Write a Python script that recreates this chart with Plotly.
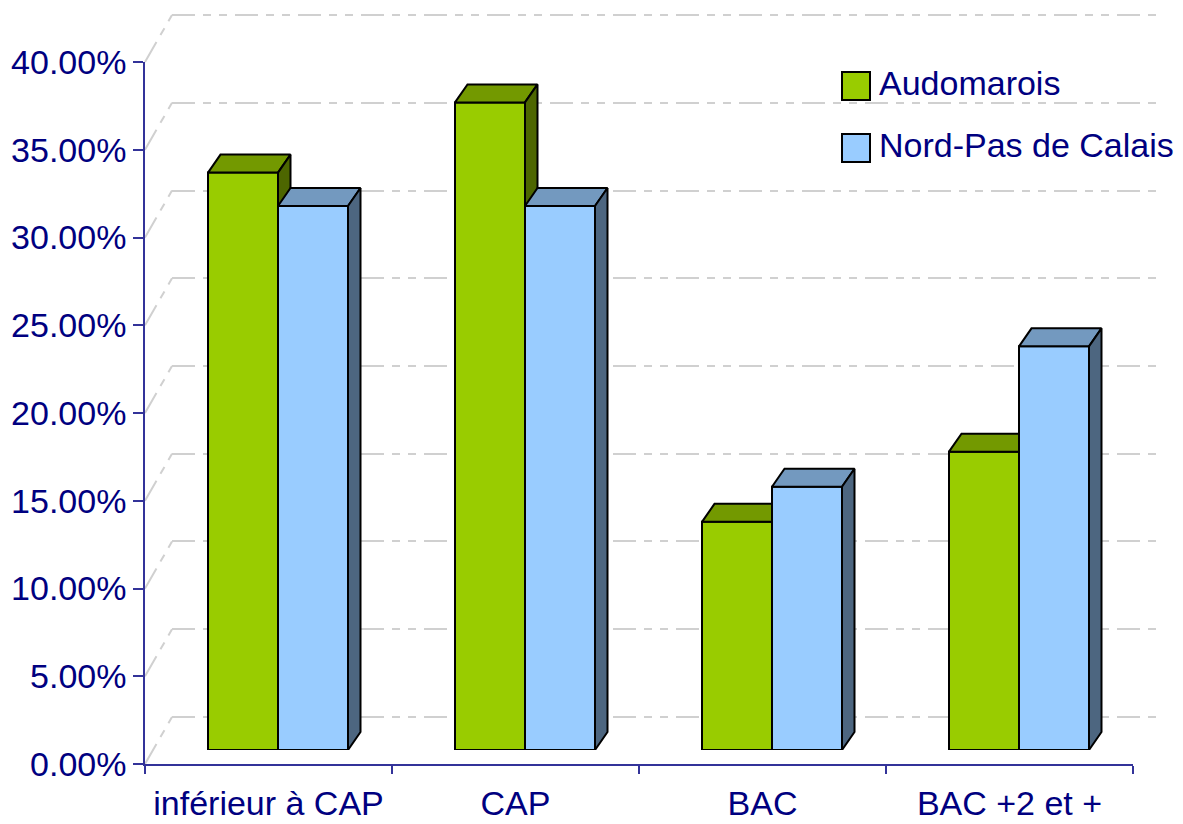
import plotly.graph_objects as go

CATEGORIES = ['inférieur à CAP', 'CAP', 'BAC', 'BAC +2 et +']
SERIES_NAMES = ['Audomarois', 'Nord-Pas de Calais']
AUDOMAROIS = [32.9, 36.9, 13.0, 17.0]
NORD_PAS_DE_CALAIS = [31.0, 31.0, 15.0, 23.0]
Y_TICKS = [0, 5, 10, 15, 20, 25, 30, 35, 40]
Y_TICK_TEXT = ['0.00%', '5.00%', '10.00%', '15.00%', '20.00%',
               '25.00%', '30.00%', '35.00%', '40.00%']

FONT = 'Liberation Sans, Arial, sans-serif'
FONT_SIZE = 34
NAVY = '#000080'
AXIS_BLUE = '#333399'
GRID = '#d0d0d0'
GRID_DASH = '23px,8px,8px,8px,8px,8px'

# front / top / side colours of each series
FACE_COLORS = [
    ('#99cc00', '#739900', '#4d6600'),
    ('#99ccff', '#7399bf', '#4d6680'),
]

# the page body has an 8px margin, so the figure is drawn 8px smaller
PAGE_OFF = 8
W, H = 1183 - PAGE_OFF, 824 - PAGE_OFF
M_L, M_R, M_T, M_B = 145 - PAGE_OFF, 15, 12 - PAGE_OFF, 60
PW, PH = W - M_L - M_R, H - M_T - M_B

# pixel geometry of the fake 3d box (front plane, bars plane, back wall)
FRONT_W, FRONT_H = 988, 702
BAR_SHIFT = (9.5, 14)
WALL_SHIFT = (27, 47)
DEPTH_PX = (12.5, 18)
BAR_PX = 70
Y_MAX = 40
WALL_PAD = 0.1  # small padding so the 0% and 40% wall lines are drawn


def dom_x(shift):
    return [shift / PW, (shift + FRONT_W) / PW]


def dom_y(shift, pad_px=0.0):
    return [(shift - pad_px) / PH, (shift + FRONT_H + pad_px) / PH]


def px_x(px):
    # px measured on the screenshot
    return (px - PAGE_OFF - M_L) / PW


def px_y(py):
    return (H - M_B - (py - PAGE_OFF)) / PH


cat_px = FRONT_W / len(CATEGORIES)
unit_px = FRONT_H / Y_MAX
bw = BAR_PX / cat_px
dx = DEPTH_PX[0] / cat_px
dy = DEPTH_PX[1] / unit_px

fig = go.Figure()

# empty traces so that the wall and front axes exist
fig.add_trace(go.Scatter(x=[0], y=[None], xaxis='x', yaxis='y',
                         showlegend=False, hoverinfo='skip'))
fig.add_trace(go.Scatter(x=CATEGORIES, y=[None] * len(CATEGORIES),
                         xaxis='x2', yaxis='y2', showlegend=False, hoverinfo='skip'))

for k, (name, vals) in enumerate(zip(SERIES_NAMES, [AUDOMAROIS, NORD_PAS_DE_CALAIS])):
    front, top, side = FACE_COLORS[k]
    xa, ya = f'x{k + 3}', f'y{k + 3}'
    off = -bw if k == 0 else 0.0
    xs = list(range(len(vals)))
    fig.add_trace(go.Bar(
        x=xs, y=vals, width=bw, offset=off, name=name,
        marker=dict(color=front, line=dict(color='black', width=2)),
        xaxis=xa, yaxis=ya, showlegend=False,
        hovertemplate='%{y:.2f}%<extra>' + name + '</extra>',
    ))
    tx, ty, sx, sy = [], [], [], []
    for i, v in zip(xs, vals):
        l, r = i + off, i + off + bw
        tx += [l, l + dx, r + dx, r, l, None]
        ty += [v, v + dy, v + dy, v, v, None]
        sx += [r, r + dx, r + dx, r, r, None]
        sy += [0, dy, v + dy, v, 0, None]
    for px_, py_, col in [(tx, ty, top), (sx, sy, side)]:
        fig.add_trace(go.Scatter(
            x=px_, y=py_, mode='lines', fill='toself', fillcolor=col,
            line=dict(color='black', width=2), xaxis=xa, yaxis=ya,
            showlegend=False, hoverinfo='skip',
        ))

shapes = []
# left wall diagonals
for v in Y_TICKS:
    f = v / Y_MAX * FRONT_H / PH
    shapes.append(dict(
        type='line', xref='paper', yref='paper',
        x0=0, y0=dom_y(0)[0] + f,
        x1=WALL_SHIFT[0] / PW, y1=dom_y(WALL_SHIFT[1])[0] + f,
        line=dict(color=GRID, width=2, dash=GRID_DASH), layer='below',
    ))

# legend
annotations = []
for k, name in enumerate(SERIES_NAMES):
    top_px = 72 + k * 62
    shapes.append(dict(
        type='rect', xref='paper', yref='paper',
        x0=px_x(842), x1=px_x(870), y0=px_y(top_px + 28), y1=px_y(top_px),
        fillcolor=FACE_COLORS[k][0], line=dict(color='black', width=2),
    ))
    annotations.append(dict(
        xref='paper', yref='paper', x=px_x(877), y=px_y(top_px + 11),
        xanchor='left', yanchor='middle', text=name, showarrow=False,
        font=dict(family=FONT, size=FONT_SIZE, color=NAVY),
    ))

hidden_x = dict(range=[-0.5, len(CATEGORIES) - 0.5], visible=False, automargin=False)
hidden_y = dict(range=[0, Y_MAX], visible=False, automargin=False)
pad = WALL_PAD

fig.update_layout(
    width=W, height=H,
    margin=dict(l=M_L, r=M_R, t=M_T, b=M_B),
    paper_bgcolor='white',
    plot_bgcolor='rgba(0,0,0,0)',
    font=dict(family=FONT, color=NAVY),
    barmode='overlay',
    showlegend=False,
    xaxis=dict(domain=dom_x(WALL_SHIFT[0]), anchor='y', **hidden_x),
    yaxis=dict(
        domain=dom_y(WALL_SHIFT[1], pad * unit_px), anchor='x',
        range=[-pad, Y_MAX + pad], automargin=False,
        tickvals=Y_TICKS, showticklabels=False, ticks='',
        showgrid=True, gridcolor=GRID, gridwidth=2, griddash=GRID_DASH,
        zeroline=False, showline=False,
    ),
    xaxis2=dict(
        domain=dom_x(0), anchor='y2', type='category',
        categoryorder='array', categoryarray=CATEGORIES,
        range=[-0.5, len(CATEGORIES) - 0.5], automargin=False,
        showline=True, linecolor=AXIS_BLUE, linewidth=1.5,
        ticks='outside', tickson='boundaries', ticklen=8, tickangle=0,
        ticklabelstandoff=8,
        tickcolor=AXIS_BLUE, tickwidth=1.5, showgrid=False,
        tickfont=dict(family=FONT, size=FONT_SIZE, color=NAVY),
    ),
    yaxis2=dict(
        domain=dom_y(0), anchor='x2', range=[0, Y_MAX], automargin=False,
        tickmode='array', tickvals=Y_TICKS, ticktext=Y_TICK_TEXT,
        showline=True, linecolor=AXIS_BLUE, linewidth=1.5,
        ticks='outside', ticklen=10, tickcolor=AXIS_BLUE, tickwidth=1.5,
        showgrid=False, zeroline=False,
        tickfont=dict(family=FONT, size=FONT_SIZE, color=NAVY),
    ),
    xaxis3=dict(domain=dom_x(BAR_SHIFT[0]), anchor='y3', **hidden_x),
    yaxis3=dict(domain=dom_y(BAR_SHIFT[1]), anchor='x3', **hidden_y),
    xaxis4=dict(domain=dom_x(BAR_SHIFT[0]), anchor='y4', **hidden_x),
    yaxis4=dict(domain=dom_y(BAR_SHIFT[1]), anchor='x4', **hidden_y),
    shapes=shapes,
    annotations=annotations,
)

fig.write_html('out.html')
